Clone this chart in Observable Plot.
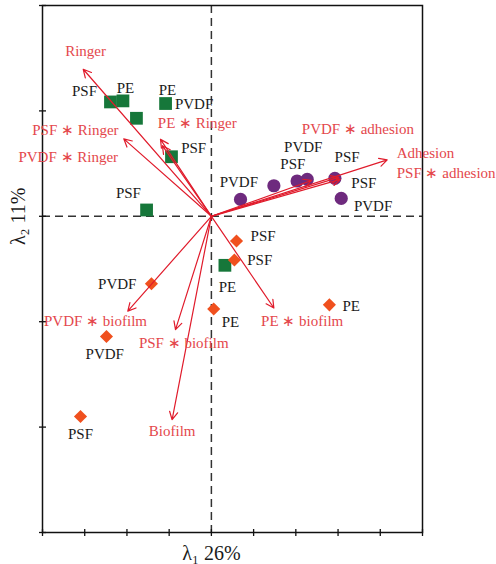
<!DOCTYPE html>
<html><head><meta charset="utf-8">
<script src="https://cdn.jsdelivr.net/npm/d3@7"></script>
<script src="https://cdn.jsdelivr.net/npm/@observablehq/plot@0.6"></script>
<style>body{margin:0;background:#fff}</style>
</head><body><div id="chart"></div>
<script>
// Axis domains and tick positions (tick labels are not shown in the reference)
const xDomain = [-0.8, 1.0];
const yDomain = [-0.6, 0.4];
const xTicks = [-0.8, -0.6, -0.4, -0.2, 0, 0.2, 0.4, 0.6, 0.8, 1.0];
const yTicks = [-0.6, -0.4, -0.2, 0, 0.2, 0.4];
const xLabel = "λ₁ 26%";
const yLabel = "λ₂ 11%";

// Sample scores (x = axis 1, y = axis 2)
const ringerSamples = [[-0.478, 0.217], [-0.419, 0.219], [-0.217, 0.214], [-0.355, 0.186], [-0.189, 0.113], [-0.307, 0.012], [0.064, -0.093]];
const adhesionSamples = [[0.138, 0.032], [0.296, 0.058], [0.406, 0.067], [0.454, 0.070], [0.585, 0.072], [0.615, 0.034]];
const biofilmSamples = [[0.119, -0.047], [0.109, -0.083], [-0.284, -0.128], [0.011, -0.176], [0.559, -0.168], [-0.497, -0.228], [-0.620, -0.380]];

// Sample labels
const sampleLabelText = ["PSF", "PE", "PE", "PVDF", "PSF", "PSF", "PE", "PVDF", "PSF", "PVDF", "PSF", "PSF", "PVDF", "PSF", "PSF", "PVDF", "PE", "PE", "PVDF", "PSF"];
const sampleLabelX = [-0.601, -0.407, -0.208, -0.082, -0.084, -0.393, 0.076, 0.130, 0.386, 0.435, 0.643, 0.722, 0.766, 0.245, 0.229, -0.446, 0.090, 0.662, -0.505, -0.620];
const sampleLabelY = [0.237, 0.244, 0.239, 0.212, 0.129, 0.043, -0.135, 0.064, 0.098, 0.132, 0.113, 0.062, 0.019, -0.038, -0.083, -0.129, -0.200, -0.171, -0.262, -0.413];

// Explanatory variable vectors (arrow tips)
const vectorNames = ["Ringer", "PSF ∗ Ringer", "PE ∗ Ringer", "PVDF ∗ Ringer", "Adhesion", "PSF ∗ adhesion", "PVDF ∗ adhesion", "PE ∗ adhesion", "PVDF ∗ biofilm", "PSF ∗ biofilm", "Biofilm", "PE ∗ biofilm"];
const vectorX = [-0.607, -0.415, -0.241, -0.232, 0.833, 0.604, 0.474, 0.611, -0.396, -0.170, -0.186, 0.296];
const vectorY = [0.279, 0.147, 0.146, 0.134, 0.107, 0.074, 0.068, 0.070, -0.180, -0.215, -0.386, -0.174];

// Vector labels
const vectorLabelText = ["Ringer", "PSF ∗ Ringer", "PVDF ∗ Ringer", "PE ∗ Ringer", "PVDF ∗ adhesion", "Adhesion", "PSF ∗ adhesion", "PVDF ∗ biofilm", "PSF ∗ biofilm", "Biofilm", "PE ∗ biofilm"];
const vectorLabelX = [-0.596, -0.644, -0.678, -0.067, 0.694, 1.014, 1.112, -0.549, -0.131, -0.186, 0.430];
const vectorLabelY = [0.313, 0.164, 0.112, 0.176, 0.165, 0.119, 0.081, -0.199, -0.240, -0.408, -0.199];

// Tables built from the arrays
const pts = a => a.map(([x, y]) => ({x, y}));
const sampleLabels = sampleLabelText.map((t, i) => ({text: t, x: sampleLabelX[i], y: sampleLabelY[i]}));
const vectors = vectorNames.map((n, i) => ({name: n, x: vectorX[i], y: vectorY[i]}));
const vectorLabels = vectorLabelText.map((t, i) => ({text: t, x: vectorLabelX[i], y: vectorLabelY[i]}));

const tickV = {draw(ctx) { ctx.moveTo(0, -3.5); ctx.lineTo(0, 3.5); }};
const tickH = {draw(ctx) { ctx.moveTo(-3.5, 0); ctx.lineTo(3.5, 0); }};

const GREEN = "#16773a", PURPLE = "#6e2a7e", ORANGE = "#f0501e", RED = "#e01b2b", RED_TEXT = "#e4474c";
const FONT = "Liberation Serif";

const chart = Plot.plot({
  width: 496, height: 564,
  marginLeft: 42, marginRight: 74, marginTop: 5, marginBottom: 32,
  x: {domain: xDomain, axis: null},
  y: {domain: yDomain, axis: null},
  style: {fontFamily: FONT, background: "white", overflow: "visible"},
  marks: [
    Plot.ruleX([0], {stroke: "#333", strokeWidth: 1.5, strokeDasharray: "8,5"}),
    Plot.ruleY([0], {stroke: "#333", strokeWidth: 1.5, strokeDasharray: "8,5"}),
    Plot.frame({stroke: "#111", strokeWidth: 1.5}),
    Plot.dot(xTicks, {x: d => d, y: yDomain[0], symbol: tickV, stroke: "#111", strokeWidth: 1.3, r: 3}),
    Plot.dot(yTicks, {x: xDomain[0], y: d => d, symbol: tickH, stroke: "#111", strokeWidth: 1.3, r: 3}),
    Plot.dot(pts(ringerSamples), {x: "x", y: "y", symbol: "square", r: 7.2, fill: GREEN, stroke: "none"}),
    Plot.dot(pts(adhesionSamples), {x: "x", y: "y", symbol: "circle", r: 6.6, fill: PURPLE, stroke: "none"}),
    Plot.dot(pts(biofilmSamples), {x: "x", y: "y", symbol: "diamond2", r: 5.9, fill: ORANGE, stroke: "none"}),
    Plot.arrow(vectors, {x1: 0, y1: 0, x2: "x", y2: "y", stroke: RED, strokeWidth: 1.2, headLength: 11, headAngle: 55}),
    Plot.text(sampleLabels, {x: "x", y: "y", text: "text", fill: "#1a1a1a", fontSize: 15}),
    Plot.text(vectorLabels, {x: "x", y: "y", text: "text", fill: RED_TEXT, fontSize: 15}),
    Plot.text([xLabel], {x: 0, y: yDomain[0], dy: 21, fontSize: 20, fill: "#1a1a1a"}),
    Plot.text([yLabel], {x: xDomain[0], y: 0, dx: -24, rotate: -90, fontSize: 20, fill: "#1a1a1a"})
  ]
});
document.getElementById("chart").append(chart);
</script>
</body></html>
